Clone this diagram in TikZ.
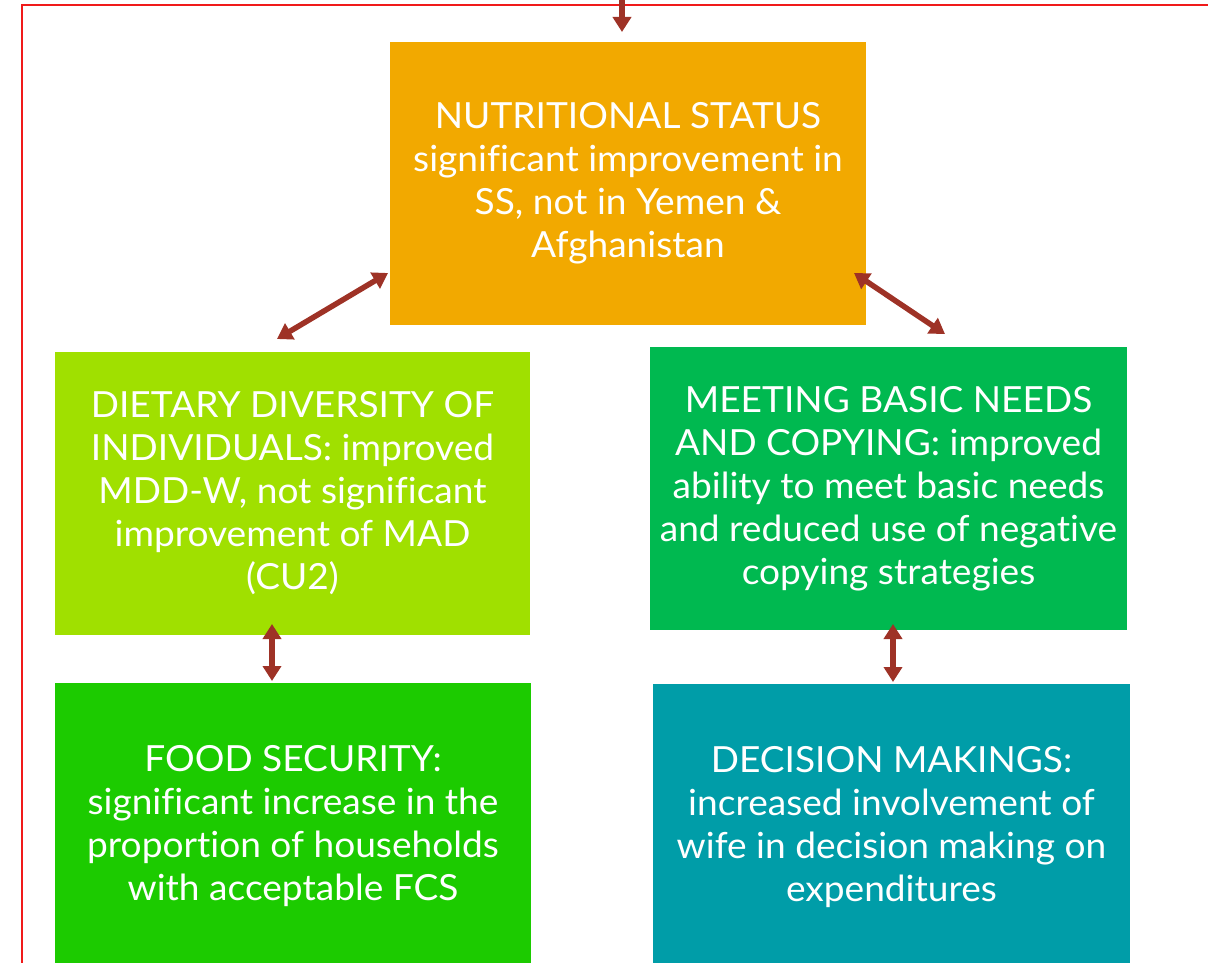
\documentclass[tikz,border=0pt]{standalone}
\usepackage{fontspec}
\setmainfont{Lato}[Ligatures={NoCommon}, FakeStretch=1.03]
\usetikzlibrary{arrows.meta}
\definecolor{nutc}{HTML}{F2A900}
\definecolor{dietc}{HTML}{A0E000}
\definecolor{meetc}{HTML}{00B950}
\definecolor{foodc}{HTML}{1CCB00}
\definecolor{decc}{HTML}{009DA8}
\definecolor{arrc}{HTML}{9E3226}
\definecolor{borderc}{HTML}{F01A1A}
\tikzset{
  box/.style={rectangle, inner sep=0pt, outer sep=0pt, text=white, align=center,
    font=\fontsize{36}{43}\selectfont},
  link/.style={draw=arrc, line width=5.5pt,
    {Triangle[width=18pt,length=15pt]}-{Triangle[width=18pt,length=15pt]}},
  inlink/.style={draw=arrc, line width=5.5pt, -{Triangle[width=18pt,length=15pt]}},
}
\begin{document}
\begin{tikzpicture}[x=1pt,y=-1pt]
\useasboundingbox (0,0) rectangle (1208,963);
\clip (0,0) rectangle (1208,963);
\draw[borderc, line width=2pt] (22,980) -- (22,5) -- (1220,5);
\node[box, fill=nutc, minimum width=476pt, minimum height=283pt] (nut) at (628,183.5)
  {NUTRITIONAL STATUS\\significant improvement in\\SS, not in Yemen \&\\Afghanistan};
\node[box, fill=dietc, minimum width=475pt, minimum height=283pt] (diet) at (292.5,493.5)
  {DIETARY DIVERSITY OF\\INDIVIDUALS: improved\\MDD-W, not significant\\improvement of MAD\\(CU2)};
\node[box, fill=meetc, minimum width=477pt, minimum height=283pt] (meet) at (888.5,488.5)
  {MEETING BASIC NEEDS\\AND COPYING: improved\\ability to meet basic needs\\and reduced use of negative\\copying strategies};
\node[box, fill=foodc, minimum width=476pt, minimum height=286pt] (food) at (293,826)
  {FOOD SECURITY:\\significant increase in the\\proportion of households\\with acceptable FCS};
\node[box, fill=decc, minimum width=477pt, minimum height=286pt] (dec) at (891.5,827)
  {DECISION MAKINGS:\\increased involvement of\\wife in decision making on\\expenditures};
\coordinate (topin) at (622,-5);
\coordinate (topend) at (622,32);
\coordinate (l1) at (388,273);
\coordinate (l2) at (277,339);
\coordinate (r1) at (854,273);
\coordinate (r2) at (945,334);
\coordinate (vl1) at (272,624);
\coordinate (vl2) at (272,681);
\coordinate (vr1) at (893,624);
\coordinate (vr2) at (893,682);
\draw[inlink] (topin) -- (topend);
\draw[link] (l1) -- (l2);
\draw[link] (r1) -- (r2);
\draw[link] (vl1) -- (vl2);
\draw[link] (vr1) -- (vr2);
\end{tikzpicture}
\end{document}
